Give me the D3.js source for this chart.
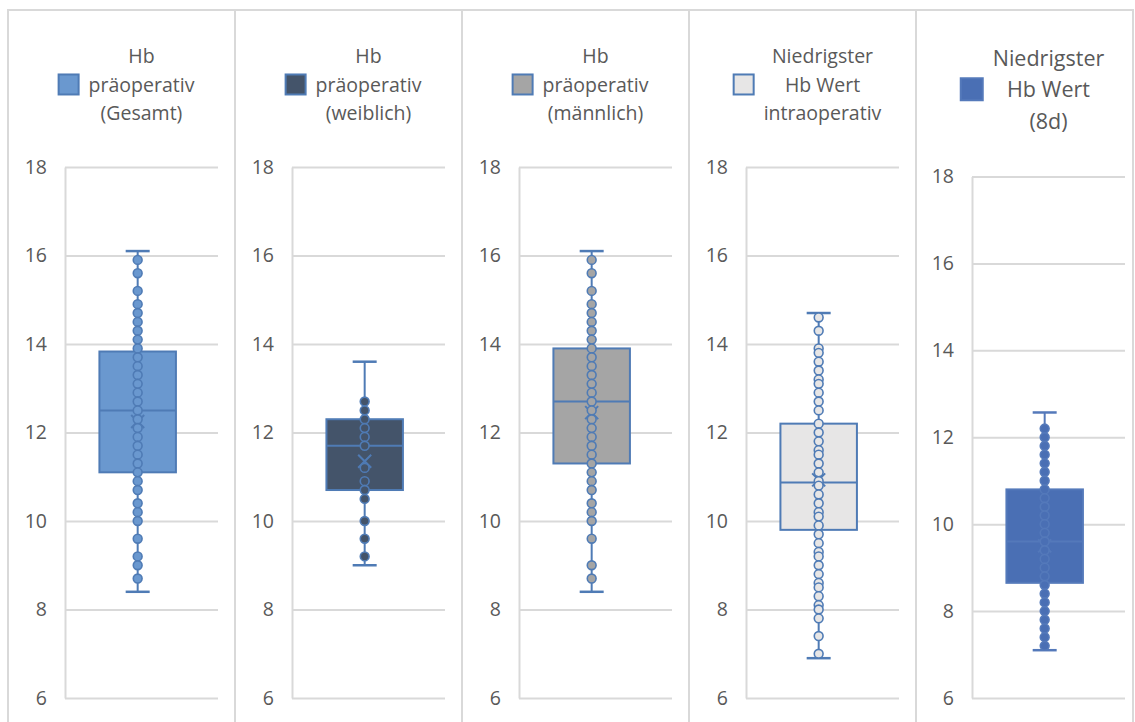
<!DOCTYPE html>
<html><head><meta charset="utf-8">
<script src="https://cdn.jsdelivr.net/npm/d3@7"></script>
<style>
html,body{margin:0;padding:0;background:#fff;}
svg{display:block;font-family:"Open Sans","Noto Sans",sans-serif;}
</style></head>
<body><svg id="chart" width="1135" height="722"></svg>
<script>
// ---------- data ----------
const categories = ["Hb präoperativ (Gesamt)", "Hb präoperativ (weiblich)", "Hb präoperativ (männlich)", "Niedrigster Hb Wert intraoperativ", "Niedrigster Hb Wert (8d)"];
const titleLines = [
  ["Hb", "präoperativ", "(Gesamt)"],
  ["Hb", "präoperativ", "(weiblich)"],
  ["Hb", "präoperativ", "(männlich)"],
  ["Niedrigster", "Hb Wert", "intraoperativ"],
  ["Niedrigster", "Hb Wert", "(8d)"]
];
const yTicks = [6, 8, 10, 12, 14, 16, 18];
const whiskerLow  = [8.4, 9.0, 8.4, 6.9, 7.1];
const quartile1   = [11.1, 10.7, 11.3, 9.8, 8.65];
const medianVal   = [12.5, 11.7, 12.7, 10.87, 9.6];
const quartile3   = [13.83, 12.3, 13.9, 12.2, 10.8];
const whiskerHigh = [16.1, 13.6, 16.1, 14.7, 12.57];
const meanVal     = [12.25, 11.35, 12.45, 10.93, 9.5];

const pointsGesamt = [15.9, 15.6, 15.2, 14.9, 14.7, 14.5, 14.3, 14.1, 13.9, 13.7, 13.5, 13.3, 13.1, 12.9, 12.7, 12.5, 12.3, 12.1, 11.9, 11.7, 11.5, 11.3, 11.1, 10.9, 10.7, 10.4, 10.2, 10.0, 9.6, 9.2, 9.0, 8.7];
const pointsWeiblich = [12.7, 12.5, 12.3, 12.1, 11.9, 11.7, 11.2, 10.9, 10.7, 10.5, 10.0, 9.6, 9.2];
const pointsMaennlich = [15.9, 15.6, 15.2, 14.9, 14.7, 14.5, 14.3, 14.1, 13.9, 13.7, 13.5, 13.3, 13.1, 12.9, 12.7, 12.5, 12.3, 12.1, 11.9, 11.7, 11.5, 11.3, 11.1, 10.9, 10.7, 10.4, 10.2, 10.0, 9.6, 9.0, 8.7];
const pointsIntraop = [14.6, 14.3, 13.9, 13.8, 13.6, 13.4, 13.2, 13.1, 12.9, 12.7, 12.5, 12.2, 12.0, 11.8, 11.6, 11.5, 11.3, 11.1, 10.9, 10.8, 10.6, 10.4, 10.2, 10.1, 9.9, 9.7, 9.5, 9.3, 9.2, 9.0, 8.8, 8.6, 8.5, 8.3, 8.1, 8.0, 7.8, 7.4, 7.0];
const points8d = [12.2, 12.0, 11.8, 11.6, 11.4, 11.2, 11.0, 10.8, 10.6, 10.4, 10.2, 10.0, 9.8, 9.6, 9.4, 9.2, 9.0, 8.8, 8.6, 8.4, 8.2, 8.0, 7.8, 7.6, 7.4, 7.2];
const seriesPoints = [pointsGesamt, pointsWeiblich, pointsMaennlich, pointsIntraop, points8d];

// ---------- styles / layout ----------
const fills = ["#6a98cf", "#44546a", "#a5a5a5", "#e7e6e6", "#4a6fb4"];
const lineColor = "#4f7bb5";
const strokes = [lineColor, lineColor, lineColor, lineColor, "#5479ba"];
const panels = [
  {left: 8,   right: 235,  axisX: 65,  top: 167,   bottom: 698, titleSize: 19.5, lineH: 28.5, base: 63, sq: 20},
  {left: 235, right: 462,  axisX: 292, top: 167,   bottom: 698, titleSize: 19.5, lineH: 28.5, base: 63, sq: 20},
  {left: 462, right: 689,  axisX: 519, top: 167,   bottom: 698, titleSize: 19.5, lineH: 28.5, base: 63, sq: 20},
  {left: 689, right: 916,  axisX: 746, top: 167,   bottom: 698, titleSize: 19.5, lineH: 28.5, base: 63, sq: 20},
  {left: 916, right: 1133, axisX: 972, top: 176.5, bottom: 698, titleSize: 21.5, lineH: 31.5, base: 65.5, sq: 22}
];
const plotW = 153;
const textColor = "#595959";
const gridColor = "#d9d9d9";

const svg = d3.select("#chart");

panels.forEach((p, i) => {
  const g = svg.append("g");
  // panel border
  g.append("rect").attr("x", p.left).attr("y", 10)
    .attr("width", p.right - p.left).attr("height", 760)
    .attr("fill", "none").attr("stroke", gridColor).attr("stroke-width", 2);

  const y = d3.scaleLinear().domain([6, 18]).range([p.bottom, p.top]);
  const x = d3.scaleBand().domain([categories[i]]).range([p.axisX, p.axisX + plotW])
    .paddingInner(0.5).paddingOuter(0.25).align(0.45);

  // axis + gridlines
  const ax = g.append("g").attr("transform", `translate(${p.axisX},0)`)
    .call(d3.axisLeft(y).tickValues(yTicks).tickFormat(d3.format("d"))
      .tickSizeInner(-plotW).tickSizeOuter(0).tickPadding(18));
  ax.select(".domain").attr("stroke", gridColor).attr("stroke-width", 2);
  ax.selectAll(".tick line").attr("stroke", gridColor).attr("stroke-width", 2);
  ax.selectAll(".tick text").attr("fill", textColor).style("font-size", "19.5px")
    .style("font-family", "'Open Sans','Noto Sans',sans-serif");

  // legend/title
  const cx = p.axisX + plotW / 2;
  const tg = g.append("g");
  let maxW = 0;
  titleLines[i].forEach((t, k) => {
    const tx = tg.append("text").attr("x", cx).attr("y", p.base + k * p.lineH)
      .attr("text-anchor", "middle").attr("fill", textColor)
      .style("font-size", p.titleSize + "px").text(t);
    maxW = Math.max(maxW, tx.node().getComputedTextLength());
  });
  const sqX = cx - maxW / 2 - 10 - p.sq;
  const midY = p.base + p.lineH - p.titleSize * 0.36;
  tg.append("rect").attr("x", sqX).attr("y", midY - p.sq / 2)
    .attr("width", p.sq).attr("height", p.sq)
    .attr("fill", fills[i]).attr("stroke", strokes[i]).attr("stroke-width", 2);

  // box plot
  const bx = x(categories[i]);
  const bw = x.bandwidth();
  const mx = bx + bw / 2;
  const capW = 24;
  const bg = g.append("g");
  // whiskers
  bg.append("line").attr("x1", mx).attr("x2", mx)
    .attr("y1", y(whiskerHigh[i])).attr("y2", y(quartile3[i]))
    .attr("stroke", strokes[i]).attr("stroke-width", 2);
  bg.append("line").attr("x1", mx).attr("x2", mx)
    .attr("y1", y(quartile1[i])).attr("y2", y(whiskerLow[i]))
    .attr("stroke", strokes[i]).attr("stroke-width", 2);
  [whiskerHigh[i], whiskerLow[i]].forEach(v => {
    bg.append("line").attr("x1", mx - capW / 2).attr("x2", mx + capW / 2)
      .attr("y1", y(v)).attr("y2", y(v))
      .attr("stroke", strokes[i]).attr("stroke-width", 2.5);
  });
  // box
  bg.append("rect").attr("x", bx).attr("y", y(quartile3[i]))
    .attr("width", bw).attr("height", y(quartile1[i]) - y(quartile3[i]))
    .attr("fill", fills[i]).attr("stroke", strokes[i]).attr("stroke-width", 2);
  // median
  bg.append("line").attr("x1", bx).attr("x2", bx + bw)
    .attr("y1", y(medianVal[i])).attr("y2", y(medianVal[i]))
    .attr("stroke", strokes[i]).attr("stroke-width", 2);
  // mean marker X
  const my = y(meanVal[i]);
  const s = 6.5;
  bg.append("path")
    .attr("d", `M${mx - s},${my - s}L${mx + s},${my + s}M${mx - s},${my + s}L${mx + s},${my - s}`)
    .attr("stroke", strokes[i]).attr("stroke-width", 2).attr("fill", "none");
  // inner points
  bg.selectAll("circle.pt").data(seriesPoints[i]).enter().append("circle")
    .attr("class", "pt").attr("cx", mx).attr("cy", d => y(d)).attr("r", 4.4)
    .attr("fill", fills[i]).attr("stroke", strokes[i]).attr("stroke-width", 1.6);
});
</script>
</body></html>
